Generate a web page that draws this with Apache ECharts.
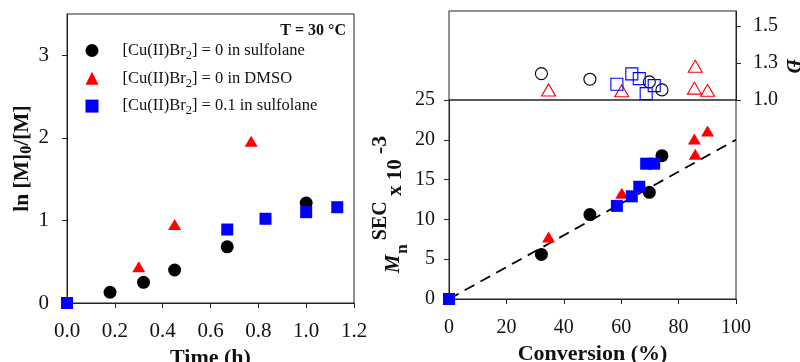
<!DOCTYPE html>
<html>
<head>
<meta charset="utf-8">
<script src="https://cdn.jsdelivr.net/npm/echarts@6/dist/echarts.min.js"></script>
<style>
  html, body { margin: 0; padding: 0; background: #fff; }
  #chart { width: 800px; height: 362px; }
</style>
</head>
<body>
<div id="chart"></div>
<script>
// Kinetics: ln([M]0/[M]) vs time
const timeSulfolane = [0.18, 0.32, 0.45, 0.67, 1.0];
const lnSulfolane   = [0.13, 0.25, 0.40, 0.68, 1.21];
const timeDmso      = [0, 0.30, 0.45, 0.77];
const lnDmso        = [0, 0.44, 0.95, 1.96];
const timeCu01      = [0, 0.67, 0.83, 1.0, 1.13];
const lnCu01        = [0, 0.89, 1.02, 1.10, 1.16];

// Molecular weight and dispersity vs conversion
const convSulfolane = [32.2, 49.1, 69.8, 74.2];
const mnSulfolane   = [5.6, 10.6, 13.4, 18.0];
const dispSulfolane = [1.178, 1.14, 1.122, 1.068];
const convDmso      = [0, 34.7, 60.2, 85.5, 85.8, 90.1];
const mnDmso        = [0, 7.8, 13.3, 20.1, 18.2, 21.1];
const dispDmso      = [null, 1.068, 1.063, 1.08, 1.227, 1.065];
const convCu01      = [0, 58.5, 63.7, 66.3, 68.7, 71.5];
const mnCu01        = [0, 11.7, 12.9, 14.1, 17.0, 17.0];
const dispCu01      = [null, 1.106, 1.176, 1.144, 1.043, 1.097];

// Theoretical Mn line
const theoryConv = [0, 100];
const theoryMn   = [0, 20];

// Tick labels
const lnTicks = [0, 1, 2, 3];
const dispTicks = [1.0, 1.25, 1.5];
const dispTickLabels = ['1.0', '1.3', '1.5'];

const seriesNames = [
  '[Cu(II)Br2] = 0 in sulfolane',
  '[Cu(II)Br2] = 0 in DMSO',
  '[Cu(II)Br2] = 0.1 in sulfolane'
];

const FONT = 'Liberation Serif';
const AXIS_COLOR = '#222';
const BLACK = '#000000', RED = '#ff0000', BLUE = '#0000ff';

function pairs(xs, ys) {
  const out = [];
  for (let i = 0; i < xs.length; i++) {
    if (ys[i] !== null && ys[i] !== undefined) out.push([xs[i], ys[i]]);
  }
  return out;
}

function axisCommon(fontSize, margin) {
  return {
    axisLine: { show: true, onZero: false, lineStyle: { color: AXIS_COLOR, width: 1 } },
    axisTick: { show: true, inside: false, length: 5, lineStyle: { color: AXIS_COLOR, width: 1 } },
    axisLabel: { color: '#111', fontFamily: FONT, fontSize: fontSize, margin: margin },
    splitLine: { show: false }
  };
}

const nameStyle = { color: '#111', fontFamily: FONT, fontWeight: 'bold', fontSize: 22 };

function filled(color) { return { color: color, opacity: 1 }; }
function hollow(color) { return { color: 'rgba(0,0,0,0)', borderColor: color, borderWidth: 1.1, opacity: 1 }; }

function panel(left, top, width, height) {
  return {
    left: left, top: top, width: width, height: height,
    outerBoundsMode: 'none', containLabel: false,
    show: true, borderColor: AXIS_COLOR, borderWidth: 1, backgroundColor: 'transparent'
  };
}

const chart = echarts.init(document.getElementById('chart'), null, { renderer: 'canvas' });

const option = {
  animation: false,
  backgroundColor: '#fff',
  title: {
    text: 'T = 30 °C',
    right: 454,
    top: 23,
    padding: 0,
    textStyle: { color: '#111', fontFamily: FONT, fontWeight: 'bold', fontSize: 16 }
  },
  legend: {
    data: [
      { name: seriesNames[0], icon: 'circle' },
      { name: seriesNames[1], icon: 'triangle' },
      { name: seriesNames[2], icon: 'rect' }
    ],
    orient: 'vertical',
    left: 85.5,
    top: 40.5,
    itemWidth: 13,
    itemHeight: 13,
    itemGap: 6.3,
    selectedMode: false,
    padding: 0,
    formatter: function (name) {
      const parts = name.split('Br2');
      return '{a|' + parts[0] + 'Br}{s|2}{a|' + parts[1] + '}';
    },
    textStyle: {
      color: '#111',
      fontFamily: FONT,
      fontSize: 16.5,
      lineHeight: 20,
      padding: [0, 0, 0, 19],
      rich: {
        a: { color: '#111', fontFamily: FONT, fontSize: 16.5 },
        s: { color: '#111', fontFamily: FONT, fontSize: 12.5, padding: [10, 0, 0, 0] }
      }
    }
  },
  // dispersity axis title, rotated clockwise beside the right-hand scale
  graphic: [{
    type: 'text',
    x: 792,
    y: 66,
    rotation: -Math.PI / 2,
    style: {
      text: 'Đ',
      fill: '#111',
      font: 'italic bold 20px "Liberation Serif"',
      align: 'center',
      verticalAlign: 'middle'
    }
  }],
  grid: [
    panel(67, 14, 287, 289),
    panel(449, 100, 287, 199),
    panel(449, 11, 287, 89)
  ],
  xAxis: [
    (function () {
      const a = axisCommon(21, 18);
      a.axisLabel.formatter = function (v) { return v.toFixed(1); };
      return Object.assign(a, {
        gridIndex: 0, type: 'value', min: 0, max: 1.2, interval: 0.2,
        name: 'Time (h)', nameLocation: 'middle', nameGap: 40, nameTextStyle: nameStyle
      });
    })(),
    Object.assign(axisCommon(20, 19), {
      gridIndex: 1, type: 'value', min: 0, max: 100, interval: 20,
      name: 'Conversion (%)', nameLocation: 'middle', nameGap: 43, nameTextStyle: nameStyle
    }),
    { gridIndex: 2, type: 'value', min: 0, max: 100, show: false, splitLine: { show: false } }
  ],
  yAxis: [
    (function () {
      const a = axisCommon(21, 18);
      a.axisLabel.customValues = lnTicks;
      a.axisTick.customValues = lnTicks;
      return Object.assign(a, {
        gridIndex: 0, type: 'value', min: 0, max: 3.5, interval: 1,
        name: '{a|ln [M]}{s|0}{a|/[M]}',
        nameLocation: 'middle', nameRotate: 90, nameGap: 33,
        nameTextStyle: {
          color: '#111', fontFamily: FONT, fontWeight: 'bold', fontSize: 21.5, lineHeight: 22,
          rich: {
            a: { color: '#111', fontFamily: FONT, fontWeight: 'bold', fontSize: 21.5 },
            s: { color: '#111', fontFamily: FONT, fontWeight: 'bold', fontSize: 16, padding: [8, 0, 0, 0] }
          }
        }
      });
    })(),
    (function () {
      const a = axisCommon(20, 14);
      return Object.assign(a, {
        gridIndex: 1, type: 'value', min: 0, max: 25, interval: 5,
        name: '{m|M}{n|n}{p|SEC}{x| x 10 }{q|-3}',
        nameLocation: 'middle', nameRotate: 90, nameGap: 38,
        nameTextStyle: {
          color: '#111', fontFamily: FONT, fontWeight: 'bold', fontSize: 20, lineHeight: 22,
          padding: [0, 10, 0, 0],
          rich: {
            m: { color: '#111', fontFamily: FONT, fontWeight: 'bold', fontStyle: 'italic', fontSize: 21 },
            n: { color: '#111', fontFamily: FONT, fontWeight: 'bold', fontSize: 17, padding: [18, 4, 0, 1] },
            p: { color: '#111', fontFamily: FONT, fontWeight: 'bold', fontSize: 20, padding: [0, 0, 26, 0] },
            x: { color: '#111', fontFamily: FONT, fontWeight: 'bold', fontSize: 21, padding: [3, 0, 0, 0] },
            q: { color: '#111', fontFamily: FONT, fontWeight: 'bold', fontSize: 22, padding: [0, 0, 27, 0] }
          }
        }
      });
    })(),
    (function () {
      const a = axisCommon(20, 17);
      a.axisLabel.customValues = dispTicks;
      a.axisTick.customValues = dispTicks;
      a.axisLabel.formatter = function (v) {
        const i = dispTicks.findIndex(function (t) { return Math.abs(t - v) < 1e-6; });
        return i >= 0 ? dispTickLabels[i] : '';
      };
      return Object.assign(a, {
        gridIndex: 2, type: 'value', position: 'right', min: 1.0, max: 1.6, interval: 0.25
      });
    })()
  ],
  series: [
    // left panel
    { name: seriesNames[0], type: 'scatter', xAxisIndex: 0, yAxisIndex: 0, symbol: 'circle', symbolSize: 13,
      itemStyle: filled(BLACK), data: pairs(timeSulfolane, lnSulfolane), z: 3 },
    { name: seriesNames[1], type: 'scatter', xAxisIndex: 0, yAxisIndex: 0, symbol: 'triangle', symbolSize: [13, 11],
      itemStyle: filled(RED), data: pairs(timeDmso, lnDmso), z: 4 },
    { name: seriesNames[2], type: 'scatter', xAxisIndex: 0, yAxisIndex: 0, symbol: 'rect', symbolSize: 12,
      itemStyle: filled(BLUE), data: pairs(timeCu01, lnCu01), z: 5 },

    // theoretical Mn
    { name: 'theory', type: 'line', xAxisIndex: 1, yAxisIndex: 1, symbol: 'none', silent: true,
      lineStyle: { color: '#000', width: 1.8, type: [11, 7] }, data: pairs(theoryConv, theoryMn), z: 2 },

    // lower right: Mn
    { name: 'Mn sulfolane', type: 'scatter', xAxisIndex: 1, yAxisIndex: 1, symbol: 'circle', symbolSize: 13,
      itemStyle: filled(BLACK), data: pairs(convSulfolane, mnSulfolane), z: 3 },
    { name: 'Mn DMSO', type: 'scatter', xAxisIndex: 1, yAxisIndex: 1, symbol: 'triangle', symbolSize: [13, 11],
      itemStyle: filled(RED), data: pairs(convDmso, mnDmso), z: 4 },
    { name: 'Mn CuBr2', type: 'scatter', xAxisIndex: 1, yAxisIndex: 1, symbol: 'rect', symbolSize: 12,
      itemStyle: filled(BLUE), data: pairs(convCu01, mnCu01), z: 5 },

    // upper right: dispersity (open symbols)
    { name: 'D sulfolane', type: 'scatter', xAxisIndex: 2, yAxisIndex: 2, symbol: 'circle', symbolSize: 12,
      itemStyle: hollow(BLACK), data: pairs(convSulfolane, dispSulfolane), z: 3 },
    { name: 'D DMSO', type: 'scatter', xAxisIndex: 2, yAxisIndex: 2, symbol: 'triangle', symbolSize: [14, 12],
      itemStyle: hollow(RED), data: pairs(convDmso, dispDmso), z: 4 },
    { name: 'D CuBr2', type: 'scatter', xAxisIndex: 2, yAxisIndex: 2, symbol: 'rect', symbolSize: 12,
      itemStyle: hollow(BLUE), data: pairs(convCu01, dispCu01), z: 5 }
  ]
};

chart.setOption(option);
</script>
</body>
</html>
